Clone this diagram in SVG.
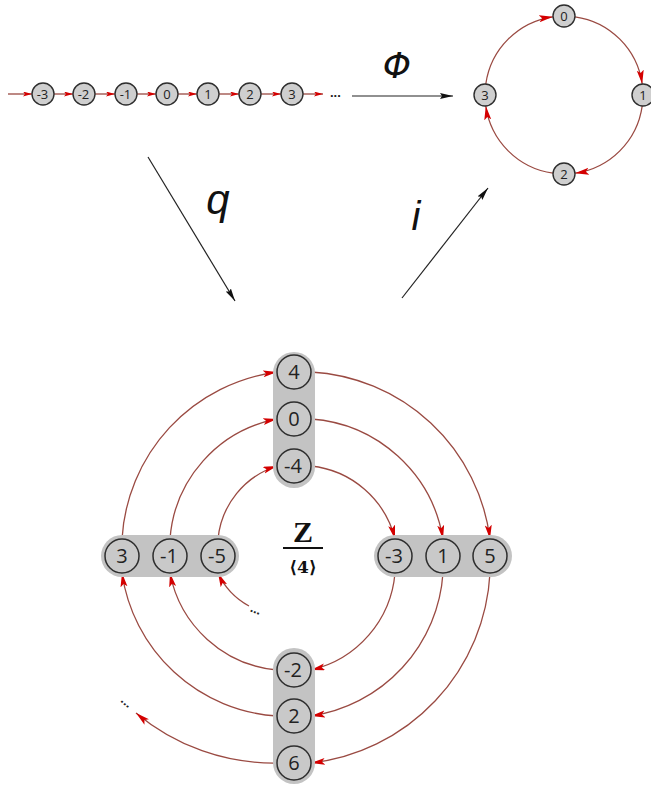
<svg xmlns="http://www.w3.org/2000/svg" width="651" height="786" viewBox="0 0 651 786">
<defs>
<style>
.bg{fill:#ffffff}
.bar{fill:#c3c3c3}
.nd{fill:#cfcfcf;stroke:#2e2e2e;stroke-width:1.4}
.ndb{fill:#c9c9c9;stroke:#2e2e2e;stroke-width:1.5}
.t{font-family:"Open Sans","Liberation Sans",sans-serif;fill:#222;text-anchor:middle}
.ts{font-size:13px}
.tb{font-size:20px}
.arc{fill:none;stroke:#9a4a42;stroke-width:1.3}
.blk{fill:none;stroke:#222;stroke-width:1.2}
.lbl{font-family:"Liberation Sans",sans-serif;font-style:italic;fill:#111;text-anchor:middle}
.dots{font-family:"Liberation Sans",sans-serif;font-weight:bold;font-size:13px;fill:#222}
</style>
<marker id="ra" markerUnits="userSpaceOnUse" markerWidth="15" markerHeight="8" refX="14" refY="3.5" orient="auto">
<path d="M0,0 L14,3.5 L0,7 L3,3.5 z" fill="#d40000"/>
</marker>
<marker id="rs" markerUnits="userSpaceOnUse" markerWidth="10" markerHeight="6" refX="9" refY="2.5" orient="auto">
<path d="M0,0 L9,2.5 L0,5 L2,2.5 z" fill="#d40000"/>
</marker>
<marker id="ba" markerUnits="userSpaceOnUse" markerWidth="14" markerHeight="8" refX="13" refY="3" orient="auto">
<path d="M0,0 L13,3 L0,6 L2,3 z" fill="#111"/>
</marker>
</defs>
<rect class="bg" x="0" y="0" width="651" height="786"/>

<g id="connectors">
<g class="arc">
<path d="M8,94 L32,94" marker-end="url(#rs)"/>
<path d="M54,94 L73,94" marker-end="url(#rs)"/>
<path d="M95,94 L115,94" marker-end="url(#rs)"/>
<path d="M137,94 L156,94" marker-end="url(#rs)"/>
<path d="M178,94 L197,94" marker-end="url(#rs)"/>
<path d="M219,94 L239,94" marker-end="url(#rs)"/>
<path d="M261,94 L281,94" marker-end="url(#rs)"/>
<path d="M303,94 L323,94" marker-end="url(#rs)"/>
</g>
<g class="arc">
<path d="M485.8,84 A79,79 0 0 1 553,16.8" marker-end="url(#ra)"/>
<path d="M575,16.8 A79,79 0 0 1 642.2,84" marker-end="url(#ra)"/>
<path d="M642.2,106 A79,79 0 0 1 575,173.2" marker-end="url(#ra)"/>
<path d="M553,173.2 A79,79 0 0 1 485.8,106" marker-end="url(#ra)"/>
</g>
<g class="blk">
<path d="M352,96 L453,96" marker-end="url(#ba)"/>
<path d="M148,157 L235,301" marker-end="url(#ba)"/>
<path d="M402,298 L488,188" marker-end="url(#ba)"/>
</g>
<g class="arc">
<path d="M249,606 A72,72 0 0 1 218,573" marker-end="url(#ra)"/>
<path d="M218,539 A85,85 0 0 1 277,466" marker-end="url(#ra)"/>
<path d="M311,466 A97,97 0 0 1 395,539" marker-end="url(#ra)"/>
<path d="M395,573 A109,109 0 0 1 311,670" marker-end="url(#ra)"/>
<path d="M277,670 A120,120 0 0 1 170,573" marker-end="url(#ra)"/>
<path d="M170,539 A132,132 0 0 1 277,419" marker-end="url(#ra)"/>
<path d="M311,419 A144,144 0 0 1 443,539" marker-end="url(#ra)"/>
<path d="M443,573 A155,155 0 0 1 311,716" marker-end="url(#ra)"/>
<path d="M277,716 A167,167 0 0 1 122,573" marker-end="url(#ra)"/>
<path d="M122,539 A179,179 0 0 1 277,372" marker-end="url(#ra)"/>
<path d="M311,372 A191,191 0 0 1 490,539" marker-end="url(#ra)"/>
<path d="M490,573 A202,202 0 0 1 311,763" marker-end="url(#ra)"/>
<path d="M277,763 A214,214 0 0 1 136,713" marker-end="url(#ra)"/>
</g>
</g>

<text class="dots" x="330" y="97">...</text>
<text class="lbl" x="397" y="78" style="font-family:'DejaVu Sans',sans-serif;font-size:36px">Φ</text>
<text class="lbl" x="218" y="214" style="font-size:42px">q</text>
<text class="lbl" x="416" y="230" style="font-size:40px">i</text>
<text class="dots" x="250" y="614" transform="rotate(22 257 611)">...</text>
<text class="dots" x="121" y="707" transform="rotate(42 128 703)">...</text>

<g id="quotient">
<text x="303" y="542" style="font-family:'Liberation Serif',serif;font-weight:bold;font-size:30px;fill:#111;text-anchor:middle">Z</text>
<line x1="283" y1="548" x2="323" y2="548" stroke="#111" stroke-width="2"/>
<text x="303" y="573" style="font-family:'DejaVu Serif',serif;font-weight:bold;font-size:17px;fill:#111;text-anchor:middle">⟨4⟩</text>
</g>

<g id="z-3"><circle class="nd" cx="43" cy="94" r="11"/><text class="t ts" x="42.5" y="98.5">-3</text></g>
<g id="z-2"><circle class="nd" cx="84" cy="94" r="11"/><text class="t ts" x="83.5" y="98.5">-2</text></g>
<g id="z-1"><circle class="nd" cx="126" cy="94" r="11"/><text class="t ts" x="125.5" y="98.5">-1</text></g>
<g id="z0"><circle class="nd" cx="167" cy="94" r="11"/><text class="t ts" x="167" y="98.5">0</text></g>
<g id="z1"><circle class="nd" cx="208" cy="94" r="11"/><text class="t ts" x="208" y="98.5">1</text></g>
<g id="z2"><circle class="nd" cx="250" cy="94" r="11"/><text class="t ts" x="250" y="98.5">2</text></g>
<g id="z3"><circle class="nd" cx="292" cy="94" r="11"/><text class="t ts" x="292" y="98.5">3</text></g>

<g id="c0"><circle class="nd" cx="564" cy="16" r="11"/><text class="t ts" x="564" y="20.5">0</text></g>
<g id="c1"><circle class="nd" cx="643" cy="95" r="11"/><text class="t ts" x="643" y="99.5">1</text></g>
<g id="c2"><circle class="nd" cx="564" cy="174" r="11"/><text class="t ts" x="564" y="178.5">2</text></g>
<g id="c3"><circle class="nd" cx="485" cy="95" r="11"/><text class="t ts" x="485" y="99.5">3</text></g>

<g id="bar-top">
<rect class="bar" x="273" y="352" width="42" height="136" rx="21"/>
<g id="q4"><circle class="ndb" cx="294" cy="372" r="17"/><text class="t tb" x="294" y="379">4</text></g>
<g id="q0"><circle class="ndb" cx="294" cy="419" r="17"/><text class="t tb" x="294" y="426">0</text></g>
<g id="q-4"><circle class="ndb" cx="294" cy="466" r="17"/><text class="t tb" x="293" y="473">-4</text></g>
</g>
<g id="bar-left">
<rect class="bar" x="101" y="535" width="138" height="42" rx="21"/>
<g id="q3"><circle class="ndb" cx="122" cy="556" r="17"/><text class="t tb" x="122" y="563">3</text></g>
<g id="q-1"><circle class="ndb" cx="170" cy="556" r="17"/><text class="t tb" x="169" y="563">-1</text></g>
<g id="q-5"><circle class="ndb" cx="218" cy="556" r="17"/><text class="t tb" x="217" y="563">-5</text></g>
</g>
<g id="bar-right">
<rect class="bar" x="374" y="535" width="138" height="42" rx="21"/>
<g id="q-3"><circle class="ndb" cx="395" cy="556" r="17"/><text class="t tb" x="394" y="563">-3</text></g>
<g id="q1"><circle class="ndb" cx="443" cy="556" r="17"/><text class="t tb" x="443" y="563">1</text></g>
<g id="q5"><circle class="ndb" cx="490" cy="556" r="17"/><text class="t tb" x="490" y="563">5</text></g>
</g>
<g id="bar-bottom">
<rect class="bar" x="273" y="648" width="42" height="136" rx="21"/>
<g id="q-2"><circle class="ndb" cx="294" cy="670" r="17"/><text class="t tb" x="293" y="677">-2</text></g>
<g id="q2"><circle class="ndb" cx="294" cy="716" r="17"/><text class="t tb" x="294" y="723">2</text></g>
<g id="q6"><circle class="ndb" cx="294" cy="763" r="17"/><text class="t tb" x="294" y="770">6</text></g>
</g>
</svg>
